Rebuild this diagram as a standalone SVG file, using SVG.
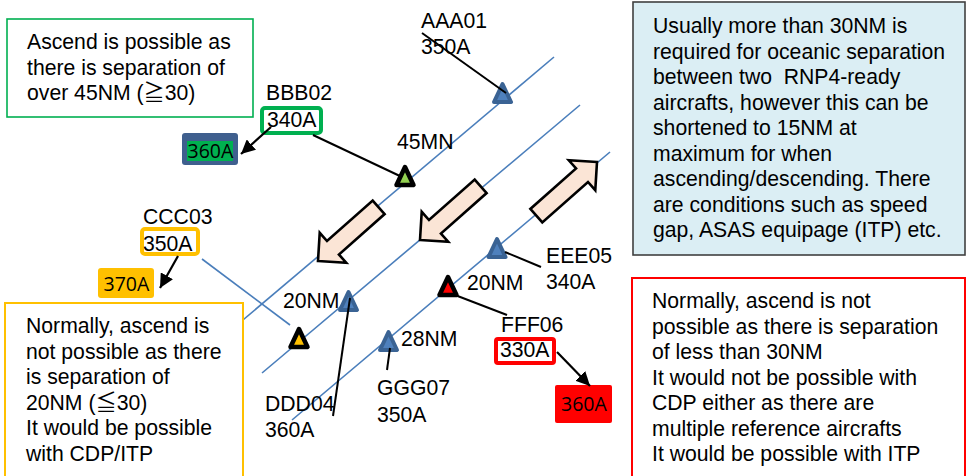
<svg xmlns="http://www.w3.org/2000/svg" width="967" height="476" viewBox="0 0 967 476">
<style>
text{font-family:"Liberation Sans",Arial,"Noto Sans CJK JP",sans-serif;font-size:21.2px;fill:#000;white-space:pre}
.sm{font-family:"Open Sans","Noto Sans",sans-serif;font-size:19.5px}
.track{stroke:#4a7ebb;stroke-width:1.6;fill:none}
.lead{stroke:#000;stroke-width:2;fill:none}
.arr{stroke:#000;stroke-width:2.2;fill:none;marker-end:url(#ah)}
.blk{fill:#fbe5d6;stroke:#000;stroke-width:2.6;stroke-linejoin:miter}
.btri{fill:#4f81bd;stroke:#3a6394;stroke-width:4;stroke-linejoin:round}
.ktri{stroke:#000;stroke-width:4.5;stroke-linejoin:round}
</style>
<defs>
<marker id="ah" viewBox="0 0 10 10" refX="10" refY="5" markerUnits="userSpaceOnUse" markerWidth="14" markerHeight="14" orient="auto">
<path d="M0,0 L10,5 L0,10 z" fill="#000"/>
</marker>
<path id="tri" d="M0,-18 L8.5,0 L-8.5,0 Z"/>
<path id="blockarrow" d="M0,0 L-20,-20 L-20,-9 L-81,-9 L-81,9 L-20,9 L-20,20 Z"/>
</defs>

<g id="tracks">
<line class="track" x1="237" y1="325" x2="554" y2="57"/>
<line class="track" x1="262" y1="373" x2="580" y2="105"/>
<line class="track" x1="292" y1="420" x2="610" y2="152"/>
<line class="track" x1="202" y1="259" x2="290" y2="325"/>
</g>

<g id="flow-arrows">
<use href="#blockarrow" class="blk" transform="translate(318,261) rotate(138.5)"/>
<use href="#blockarrow" class="blk" transform="translate(420,240) rotate(138.5)"/>
<use href="#blockarrow" class="blk" transform="translate(597,162) rotate(-41.5)"/>
</g>

<g id="note-green">
<rect x="7" y="19" width="246" height="98" fill="#fff" stroke="#00b050" stroke-width="1.6"/>
<text x="27" y="49">Ascend is possible as</text>
<text x="27" y="75">there is separation of</text>
<text x="27" y="100">over 45NM (≧30)</text>
</g>

<g id="note-blue">
<rect x="633" y="2" width="332" height="253" fill="#dbeef4" stroke="#404040" stroke-width="1.6"/>
<text x="653" y="33">Usually more than 30NM is</text>
<text x="653" y="58.5">required for oceanic separation</text>
<text x="653" y="84">between two  RNP4-ready</text>
<text x="653" y="109.5">aircrafts, however this can be</text>
<text x="653" y="135">shortened to 15NM at</text>
<text x="653" y="160.5">maximum for when</text>
<text x="653" y="186">ascending/descending. There</text>
<text x="653" y="211.5">are conditions such as speed</text>
<text x="653" y="237">gap, ASAS equipage (ITP) etc.</text>
</g>

<g id="note-red">
<rect x="632" y="278" width="333" height="210" fill="#fff" stroke="#ff0000" stroke-width="2"/>
<text x="652" y="308">Normally, ascend is not</text>
<text x="652" y="333.5">possible as there is separation</text>
<text x="652" y="359">of less than 30NM</text>
<text x="652" y="384.5">It would not be possible with</text>
<text x="652" y="410">CDP either as there are</text>
<text x="652" y="435.5">multiple reference aircrafts</text>
<text x="652" y="461">It would be possible with ITP</text>
</g>

<g id="note-yellow">
<rect x="5" y="303" width="238" height="185" fill="#fff" stroke="#ffc000" stroke-width="2"/>
<text x="26" y="333">Normally, ascend is</text>
<text x="26" y="358.5">not possible as there</text>
<text x="26" y="384">is separation of</text>
<text x="26" y="409.5">20NM (≦30)</text>
<text x="26" y="435">It would be possible</text>
<text x="26" y="460.5">with CDP/ITP</text>
</g>

<g id="AAA01">
<use href="#tri" class="btri" transform="translate(502.5,102)"/>
<text x="421" y="28">AAA01</text>
<text x="421" y="54">350A</text>
</g>

<g id="BBB02">
<use href="#tri" class="ktri" fill="#92d050" transform="translate(405,185)"/>
<text x="266" y="100">BBB02</text>
<rect x="262" y="108" width="59" height="25" rx="3" fill="#fff" stroke="#00b050" stroke-width="4"/>
<text x="267" y="127">340A</text>
<text x="397" y="149">45MN</text>
</g>

<g id="BBB02-target">
<rect x="182" y="133" width="56" height="32" rx="3" fill="#3f5f8e"/>
<rect x="187" y="141" width="46" height="20" fill="#00b050"/>
<text class="sm" x="187.5" y="158">360A</text>
</g>

<g id="CCC03">
<use href="#tri" class="ktri" fill="#ffc000" transform="translate(299,347)"/>
<text x="143" y="224">CCC03</text>
<rect x="142" y="229" width="56" height="25" rx="3" fill="#fff" stroke="#ffc000" stroke-width="4"/>
<text x="143" y="251">350A</text>
</g>

<g id="CCC03-target">
<rect x="98" y="268" width="56" height="30" rx="3" fill="#ffc000"/>
<text class="sm" x="103.5" y="291">370A</text>
</g>

<g id="DDD04">
<use href="#tri" class="btri" transform="translate(348.5,310)"/>
<text x="283" y="308">20NM</text>
<text x="265" y="411">DDD04</text>
<text x="265" y="437">360A</text>
</g>

<g id="EEE05">
<use href="#tri" class="btri" transform="translate(497,257)"/>
<text x="546" y="263">EEE05</text>
<text x="546" y="289">340A</text>
<text x="467" y="290">20NM</text>
</g>

<g id="FFF06">
<use href="#tri" class="ktri" fill="#ff0000" transform="translate(448,295)"/>
<text x="501" y="332">FFF06</text>
<rect x="496" y="339" width="58" height="24" rx="2" fill="#fff" stroke="#ff0000" stroke-width="4"/>
<text x="500" y="357">330A</text>
</g>

<g id="FFF06-target">
<rect x="555" y="385" width="57" height="38" rx="2" fill="#ff0000"/>
<text class="sm" x="561" y="411">360A</text>
</g>

<g id="GGG07">
<use href="#tri" class="btri" transform="translate(388.5,350)"/>
<text x="401" y="346">28NM</text>
<text x="377" y="395">GGG07</text>
<text x="377" y="422">350A</text>
</g>

<g id="connectors">
<line class="lead" x1="422" y1="33" x2="506" y2="93"/>
<line class="lead" x1="313" y1="135" x2="402" y2="177"/>
<line class="lead" x1="333" y1="416" x2="350" y2="298"/>
<line class="lead" x1="387" y1="370" x2="390" y2="348"/>
<line class="lead" x1="541" y1="267" x2="505" y2="252"/>
<line class="lead" x1="507" y1="315" x2="455" y2="295"/>
<line class="arr" x1="271" y1="127" x2="241" y2="154"/>
<line class="arr" x1="178" y1="256" x2="160" y2="288"/>
<line class="arr" x1="557" y1="352" x2="590" y2="386"/>
</g>
</svg>
